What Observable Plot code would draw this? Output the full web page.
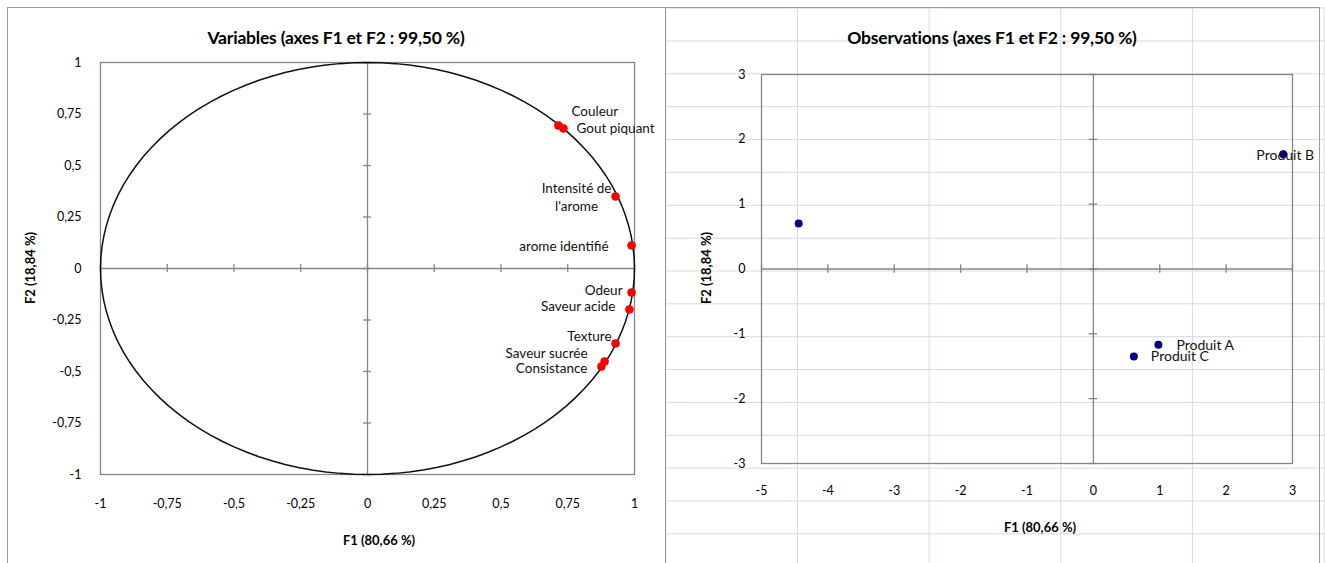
<!DOCTYPE html>
<html>
<head>
<meta charset="utf-8">
<script src="https://cdn.jsdelivr.net/npm/d3@7"></script>
<script src="https://cdn.jsdelivr.net/npm/@observablehq/plot@0.6"></script>
<style>
  html, body { margin: 0; padding: 0; background: #fff; }
  #root { position: relative; width: 1325px; height: 563px; overflow: hidden; font-family: Lato, "Noto Sans", sans-serif; color: #000; }
  #gridPanel {
    position: absolute; left: 665px; top: 7px; width: 660px; height: 556px;
    background-image:
      linear-gradient(to bottom, #d3dae7 1px, transparent 1px),
      linear-gradient(to right, #d3dae7 1px, transparent 1px);
    background-size: 100% 32.87px, 131.67px 100%;
    background-position: 0 0.6px, 0.3px 0;
  }
  #leftPanel { position: absolute; left: 7px; top: 7px; width: 657px; height: 560px; background: #fff; border: 1px solid #9a9a9a; border-bottom: none; }
  #rightBorder { position: absolute; left: 665px; top: 7px; width: 654px; height: 560px; border-top: 1px solid #9a9a9a; border-right: 1px solid #9a9a9a; }
  .svgwrap { position: absolute; top: 0; }
  .title { position: absolute; font-weight: bold; font-size: 17.5px; letter-spacing: -0.2px; white-space: nowrap; transform: translate(-50%, -50%); }
  .axtitle { position: absolute; font-weight: bold; font-size: 13px; white-space: nowrap; transform: translate(-50%, -50%); }
  .axtitle.rot { transform: translate(-50%, -50%) rotate(-90deg); }
</style>
</head>
<body>
<div id="root">
  <div id="gridPanel"></div>
  <div id="rightBorder"></div>
  <div id="leftPanel"></div>
  <div id="leftSvg" class="svgwrap" style="left:0px"></div>
  <div id="rightSvg" class="svgwrap" style="left:665px"></div>
  <div class="title" style="left:336px; top:37px">Variables (axes F1 et F2 : 99,50 %)</div>
  <div class="title" style="left:992px; top:37px">Observations (axes F1 et F2 : 99,50 %)</div>
  <div class="axtitle" style="left:379px; top:540px">F1 (80,66 %)</div>
  <div class="axtitle rot" style="left:30px; top:268px">F2 (18,84 %)</div>
  <div class="axtitle" style="left:1040px; top:527px">F1 (80,66 %)</div>
  <div class="axtitle rot" style="left:706px; top:268px">F2 (18,84 %)</div>
</div>
<script>
// ---- Data ----
const varNames = ["Couleur", "Gout piquant", "Intensité de l'arome", "arome identifié", "Odeur", "Saveur acide", "Texture", "Saveur sucrée", "Consistance"];
const varF1 = [0.715, 0.734, 0.929, 0.989, 0.989, 0.981, 0.929, 0.888, 0.876];
const varF2 = [0.694, 0.680, 0.350, 0.112, -0.117, -0.199, -0.364, -0.451, -0.476];

const obsNames = ["", "Produit A", "Produit B", "Produit C"];
const obsF1 = [-4.44, 0.98, 2.86, 0.61];
const obsF2 = [0.70, -1.17, 1.77, -1.35];

const leftTicks = [-1, -0.75, -0.5, -0.25, 0, 0.25, 0.5, 0.75, 1];
const rightXTicks = [-5, -4, -3, -2, -1, 0, 1, 2, 3];
const rightYTicks = [-3, -2, -1, 0, 1, 2, 3];

// ---- Build tables ----
const vars = varNames.map((name, i) => ({name, f1: varF1[i], f2: varF2[i]}));
const obs = obsNames.map((name, i) => ({name, f1: obsF1[i], f2: obsF2[i]}));
// reference unit circle (correlation circle geometry)
const circle = d3.range(0, 361, 3).map(a => ({x: Math.cos(a * Math.PI / 180), y: Math.sin(a * Math.PI / 180)}));

const fr = d => String(d).replace(".", ",");
const axisGray = "#868686";

// label placement (layout only)
const varPlace = {
  "Couleur": {a: "start", dx: 13, dy: -15},
  "Gout piquant": {a: "start", dx: 13, dy: -1},
  "Intensité de l'arome": {a: "middle", dx: -39, dy: 0},
  "arome identifié": {a: "end", dx: -23, dy: 0},
  "Odeur": {a: "end", dx: -9, dy: -3},
  "Saveur acide": {a: "end", dx: -14, dy: -4},
  "Texture": {a: "end", dx: -4, dy: -8},
  "Saveur sucrée": {a: "end", dx: -17, dy: -9},
  "Consistance": {a: "end", dx: -14, dy: 1}
};
const obsPlace = {
  "Produit A": {a: "start", dx: 18, dy: 1},
  "Produit B": {a: "middle", dx: 2, dy: 1},
  "Produit C": {a: "start", dx: 17, dy: 0}
};

const varLabelMarks = vars.map(v => {
  const p = varPlace[v.name];
  return Plot.text([v], {
    x: "f1", y: "f2",
    text: d => d.name.replace("de l'", "de\nl'"),
    textAnchor: p.a, dx: p.dx, dy: p.dy,
    lineHeight: 1.3, fontSize: 13.5, fill: "#111"
  });
});
const obsLabelMarks = obs.filter(o => obsPlace[o.name]).map(o => {
  const p = obsPlace[o.name];
  return Plot.text([o], {
    x: "f1", y: "f2", text: "name",
    textAnchor: p.a, dx: p.dx, dy: p.dy,
    fontSize: 14, fill: "#111"
  });
});

const leftPlot = Plot.plot({
  width: 665, height: 563,
  marginLeft: 100, marginRight: 31, marginTop: 62, marginBottom: 89,
  x: {domain: [-1, 1]},
  y: {domain: [-1, 1]},
  style: {fontFamily: "Lato, sans-serif", fontSize: "12.5px", background: "transparent", color: "#000", overflow: "visible"},
  marks: [
    Plot.frame({stroke: axisGray, strokeWidth: 1.3}),
    Plot.ruleX([0], {stroke: axisGray, strokeWidth: 1.3}),
    Plot.ruleY([0], {stroke: axisGray, strokeWidth: 1.3}),
    Plot.ruleX(leftTicks, {x: d => d, y1: -0.02, y2: 0.02, stroke: axisGray, strokeWidth: 1.3}),
    Plot.ruleY(leftTicks, {y: d => d, x1: -0.015, x2: 0.015, stroke: axisGray, strokeWidth: 1.3}),
    Plot.line(circle, {x: "x", y: "y", stroke: "#111", strokeWidth: 1.5}),
    Plot.axisX({ticks: leftTicks, tickSize: 0, tickPadding: 25, tickFormat: fr, label: null}),
    Plot.axisY({ticks: leftTicks, tickSize: 0, tickPadding: 19, tickFormat: fr, label: null}),
    Plot.dot(vars, {x: "f1", y: "f2", r: 4, fill: "#ff0000", stroke: "#e00000", strokeWidth: 0.6}),
    ...varLabelMarks
  ]
});
document.getElementById("leftSvg").appendChild(leftPlot);

const rightPlot = Plot.plot({
  width: 660, height: 563,
  marginLeft: 96, marginRight: 33, marginTop: 74, marginBottom: 100,
  x: {domain: [-5, 3]},
  y: {domain: [-3, 3]},
  style: {fontFamily: "Lato, sans-serif", fontSize: "12.5px", background: "transparent", color: "#000", overflow: "visible"},
  marks: [
    Plot.frame({stroke: axisGray, strokeWidth: 1.3}),
    Plot.ruleX([0], {stroke: axisGray, strokeWidth: 1.3}),
    Plot.ruleY([0], {stroke: axisGray, strokeWidth: 1.3}),
    Plot.ruleX(rightXTicks, {x: d => d, y1: -0.065, y2: 0.065, stroke: axisGray, strokeWidth: 1.3}),
    Plot.ruleY(rightYTicks, {y: d => d, x1: -0.065, x2: 0.065, stroke: axisGray, strokeWidth: 1.3}),
    Plot.axisX({ticks: rightXTicks, tickSize: 0, tickPadding: 23, tickFormat: fr, label: null}),
    Plot.axisY({ticks: rightYTicks, tickSize: 0, tickPadding: 16, tickFormat: fr, label: null}),
    Plot.dot(obs, {x: "f1", y: "f2", r: 4, fill: "#000080"}),
    ...obsLabelMarks
  ]
});
document.getElementById("rightSvg").appendChild(rightPlot);
</script>
</body>
</html>
